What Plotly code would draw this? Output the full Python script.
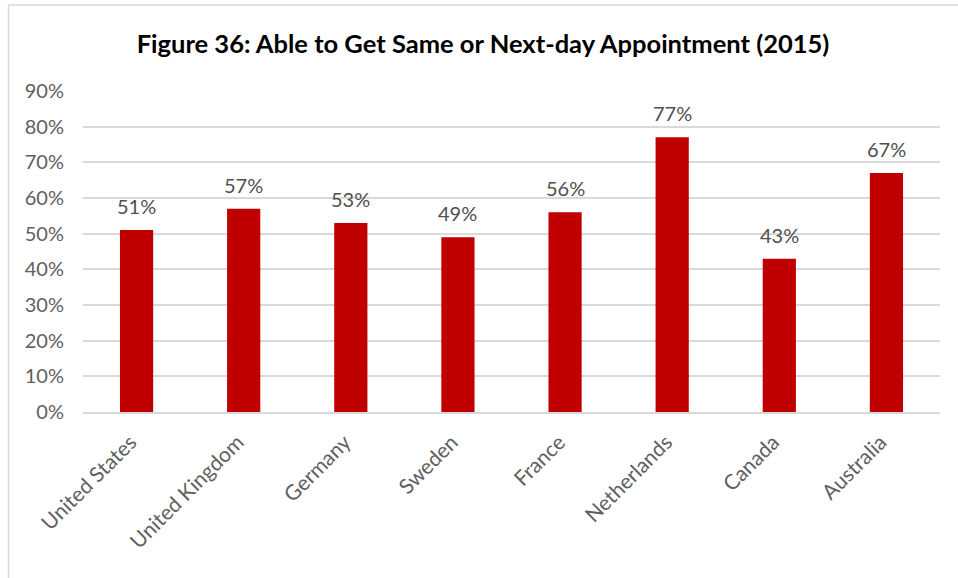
import plotly.graph_objects as go

countries = ["United States", "United Kingdom", "Germany", "Sweden", "France",
             "Netherlands", "Canada", "Australia"]
values = [51, 57, 53, 49, 56, 77, 43, 67]
tick_vals = [0, 10, 20, 30, 40, 50, 60, 70, 80, 90]
tick_text = [f"{v}%" for v in tick_vals]

FONT = "Lato, 'Open Sans', sans-serif"

fig = go.Figure()
fig.add_trace(go.Bar(
    x=countries, y=values,
    marker=dict(color="#C00000", line=dict(width=0)),
    hoverinfo="x+y",
))

for c, v in zip(countries, values):
    fig.add_annotation(x=c, y=v, text=f"{v}%", showarrow=False,
                       yanchor="bottom", yshift=10,
                       font=dict(family=FONT, size=20, color="#505050"))

fig.update_layout(
    width=958, height=578,
    margin=dict(l=83, r=18, t=91, b=166, autoexpand=False),
    paper_bgcolor="white", plot_bgcolor="white",
    bargap=0.69,
    showlegend=False,
    title=dict(text="<b>Figure 36: Able to Get Same or Next-day Appointment (2015)</b>",
               x=483 / 958, xref="container", xanchor="center",
               y=1 - 44 / 578, yref="container", yanchor="middle",
               font=dict(family=FONT, size=25.5, color="#000000")),
    xaxis=dict(tickangle=-45, tickfont=dict(family=FONT, size=21, color="#606060"),
               ticklabelstandoff=8, ticklabelshift=-6,
               showline=True, linecolor="#d9d9d9", linewidth=1.5,
               ticks="", showgrid=False, automargin=False),
    yaxis=dict(range=[0, 90], tickvals=tick_vals, ticktext=tick_text,
               tickfont=dict(family=FONT, size=20, color="#606060"),
               ticklabelstandoff=18,
               showgrid=True, gridcolor="#d9d9d9", gridwidth=1.5,
               zeroline=False, ticks="", showline=False, automargin=False),
    shapes=[
        dict(type="line", xref="paper", yref="paper",
             x0=(8.5 - 83) / 857, x1=(8.5 - 83) / 857,
             y0=(412 - 5) / 321, y1=-1.0,
             line=dict(color="#d9d9d9", width=1.5)),
        dict(type="line", xref="paper", yref="paper",
             x0=(8.5 - 83) / 857, x1=1.2,
             y0=(412 - 5) / 321, y1=(412 - 5) / 321,
             line=dict(color="#d9d9d9", width=1.5)),
    ],
)

fig.write_html("out.html", config={"displayModeBar": False},
               post_script="document.body.style.margin='0';document.body.style.overflow='hidden';")
